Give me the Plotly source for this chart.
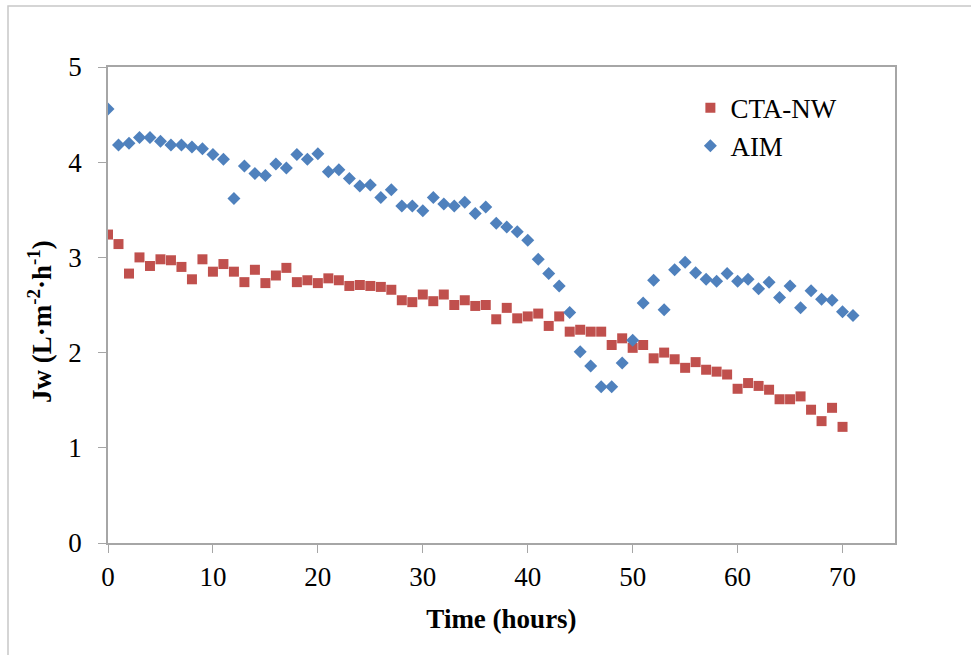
import plotly.graph_objects as go

time_cta = list(range(0, 71))
cta_nw = [3.24, 3.14, 2.83, 3.00, 2.91, 2.98, 2.97, 2.90, 2.77, 2.98,
          2.85, 2.93, 2.85, 2.74, 2.87, 2.73, 2.81, 2.89, 2.74, 2.76,
          2.73, 2.78, 2.76, 2.70, 2.71, 2.70, 2.69, 2.66, 2.55, 2.53,
          2.61, 2.54, 2.61, 2.50, 2.55, 2.49, 2.50, 2.35, 2.47, 2.36,
          2.38, 2.41, 2.28, 2.38, 2.22, 2.24, 2.22, 2.22, 2.08, 2.15,
          2.05, 2.08, 1.94, 2.00, 1.93, 1.84, 1.90, 1.82, 1.80, 1.77,
          1.62, 1.68, 1.65, 1.61, 1.51, 1.51, 1.54, 1.40, 1.28, 1.42,
          1.22]

time_aim = list(range(0, 72))
aim = [4.56, 4.18, 4.20, 4.26, 4.26, 4.22, 4.18, 4.18, 4.16, 4.14,
       4.08, 4.03, 3.62, 3.96, 3.88, 3.86, 3.98, 3.94, 4.08, 4.03,
       4.09, 3.90, 3.92, 3.83, 3.75, 3.76, 3.63, 3.71, 3.54, 3.54,
       3.49, 3.63, 3.56, 3.54, 3.58, 3.46, 3.53, 3.36, 3.32, 3.27,
       3.18, 2.98, 2.83, 2.70, 2.42, 2.01, 1.86, 1.64, 1.64, 1.89,
       2.13, 2.52, 2.76, 2.45, 2.87, 2.95, 2.84, 2.77, 2.75, 2.83,
       2.75, 2.77, 2.67, 2.74, 2.58, 2.70, 2.47, 2.65, 2.56, 2.55,
       2.43, 2.39]

x_ticks = [0, 10, 20, 30, 40, 50, 60, 70]
y_ticks = [0, 1, 2, 3, 4, 5]

FONT = "Liberation Serif, Times New Roman, serif"
AXIS_GRAY = "#A6A6A6"

fig = go.Figure()
fig.add_trace(go.Scatter(
    x=time_cta, y=cta_nw, mode="markers", name="CTA-NW",
    marker=dict(symbol="square", size=10, color="#C0504D"),
))
fig.add_trace(go.Scatter(
    x=time_aim, y=aim, mode="markers", name="AIM",
    marker=dict(symbol="diamond", size=10, color="#4F81BD"),
))

fig.update_layout(
    width=971, height=655,
    margin=dict(l=108, r=76, t=67, b=112),
    paper_bgcolor="white", plot_bgcolor="white",
    font=dict(family=FONT, size=27, color="black"),
    showlegend=True,
    legend=dict(
        x=0.74, y=0.965, xanchor="left", yanchor="top",
        bgcolor="rgba(0,0,0,0)", font=dict(family=FONT, size=27, color="black"),
        itemwidth=30,
    ),
    xaxis=dict(
        range=[0, 75], tickvals=x_ticks, ticks="outside", ticklen=8,
        tickcolor=AXIS_GRAY, showline=True, linecolor=AXIS_GRAY, linewidth=1.5,
        mirror=True, showgrid=False, zeroline=False,
        tickfont=dict(family=FONT, size=27), ticklabelstandoff=1,
        title=dict(text="<b>Time (hours)</b>", font=dict(family=FONT, size=27),
                   standoff=18),
    ),
    yaxis=dict(
        range=[0, 5], tickvals=y_ticks, ticks="outside", ticklen=8,
        tickcolor=AXIS_GRAY, showline=True, linecolor=AXIS_GRAY, linewidth=1.5,
        mirror=True, showgrid=False, zeroline=False,
        tickfont=dict(family=FONT, size=27), ticklabelstandoff=11,
    ),
)

# y-axis title placed as rotated annotation (slightly below plot centre as in reference)
fig.add_annotation(
    text="<b>Jw (L·m<sup>-2</sup>·h<sup>-1</sup>)</b>",
    xref="paper", yref="paper", x=(40 - 108) / 787, y=(543 - 322) / 476,
    xanchor="center", yanchor="middle", textangle=-90, showarrow=False,
    font=dict(family=FONT, size=27, color="black"),
)

# outer chart frame
fig.add_shape(type="rect", xref="paper", yref="paper",
              x0=(8 - 108) / 787, x1=1.2, y0=-0.5, y1=(543 - 6) / 476,
              line=dict(color="#C8C8C8", width=1.5), layer="below")

fig.write_html("out.html")
